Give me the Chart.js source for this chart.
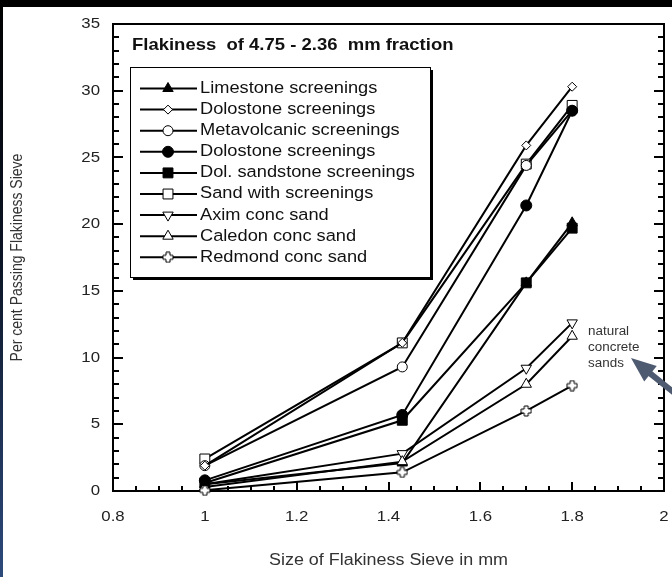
<!DOCTYPE html>
<html>
<head>
<meta charset="utf-8">
<title>Flakiness of 4.75 - 2.36 mm fraction</title>
<script src="https://cdn.jsdelivr.net/npm/chart.js@4.4.1/dist/chart.umd.min.js"></script>
<style>
  html, body { margin: 0; padding: 0; background: #fff; }
  #wrap { position: relative; width: 672px; height: 577px; overflow: hidden; }
  #topStrip { position: absolute; left: 0; top: 0; width: 672px; height: 7px; background: #000; }
  #leftStrip { position: absolute; left: 0; top: 0; width: 3px; height: 577px;
               background: linear-gradient(#000 0%, #0c1526 45%, #2d4a7c 100%); }
</style>
</head>
<body>
<div id="wrap">
  <canvas id="flakinessChart" width="672" height="577"></canvas>
  <div id="topStrip"></div>
  <div id="leftStrip"></div>
</div>
<script>
// Size of flakiness sieve (x), shared by every material
const sieveSizes = [1, 1.43, 1.7, 1.8];

// Per cent passing flakiness sieve, one array per material
const limestoneScreenings = [0.5, 2.1, 15.6, 20.1];
const dolostoneScreeningsA = [1.9, 11.1, 25.9, 30.3];
const metavolcanicScreenings = [1.9, 9.3, 24.4, 28.5];
const dolostoneScreeningsB = [0.8, 5.7, 21.4, 28.5];
const dolSandstoneScreenings = [0.6, 5.3, 15.6, 19.7];
const sandWithScreenings = [2.4, 11.1, 24.5, 28.9];
const aximConcSand = [0.5, 2.8, 9.2, 12.6];
const caledonConcSand = [0.3, 2.2, 8.0, 11.6];
const redmondConcSand = [0.05, 1.4, 6.0, 7.9];

// Axis tick labels
const xTickValues = [0.8, 1, 1.2, 1.4, 1.6, 1.8, 2];
const yTickValues = [0, 5, 10, 15, 20, 25, 30, 35];

// Texts
const chartTitle = 'Flakiness  of 4.75 - 2.36  mm fraction';
const xAxisTitle = 'Size of Flakiness Sieve in mm';
const yAxisTitle = 'Per cent Passing Flakiness Sieve';
const noteLines = ['natural', 'concrete', 'sands'];

const FONT = '"Liberation Sans", Arial, sans-serif';
const STRETCH = 1.12; // the source picture is a bit wider than it is tall

// Outlined plus marker (Chart.js only has a plain "cross")
function makePlusMarker() {
    const c = document.createElement('canvas');
    c.width = 12;
    c.height = 12;
    const g = c.getContext('2d');
    const a = 2, m = 6;
    g.beginPath();
    g.moveTo(m - a, 1); g.lineTo(m + a, 1); g.lineTo(m + a, m - a);
    g.lineTo(11, m - a); g.lineTo(11, m + a); g.lineTo(m + a, m + a);
    g.lineTo(m + a, 11); g.lineTo(m - a, 11); g.lineTo(m - a, m + a);
    g.lineTo(1, m + a); g.lineTo(1, m - a); g.lineTo(m - a, m - a);
    g.closePath();
    g.fillStyle = '#fff';
    g.fill();
    g.lineWidth = 1;
    g.strokeStyle = '#000';
    g.stroke();
    return c;
}

function series(label, values, style) {
    return Object.assign({
        label: label,
        data: sieveSizes.map((x, i) => ({ x: x, y: values[i] })),
        borderColor: '#000',
        borderWidth: 2,
        pointBorderColor: '#000',
        pointBorderWidth: 1,
        pointHoverRadius: 0,
        tension: 0,
        clip: false
    }, style);
}

const datasets = [
    series('Limestone screenings', limestoneScreenings,
        { pointStyle: 'triangle', pointRadius: 6, pointBackgroundColor: '#000', order: 9 }),
    series('Dolostone screenings', dolostoneScreeningsA,
        { pointStyle: 'rectRot', pointRadius: 4.5, pointBackgroundColor: '#fff', order: 7 }),
    series('Metavolcanic screenings', metavolcanicScreenings,
        { pointStyle: 'circle', pointRadius: 5, pointBackgroundColor: '#fff', order: 8 }),
    series('Dolostone screenings', dolostoneScreeningsB,
        { pointStyle: 'circle', pointRadius: 5.5, pointBackgroundColor: '#000', order: 2 }),
    series('Dol. sandstone screenings', dolSandstoneScreenings,
        { pointStyle: 'rect', pointRadius: 7, pointBackgroundColor: '#000', order: 6 }),
    series('Sand with screenings', sandWithScreenings,
        { pointStyle: 'rect', pointRadius: 7, pointBackgroundColor: '#fff', order: 10 }),
    series('Axim conc sand', aximConcSand,
        { pointStyle: 'triangle', pointRotation: 180, pointRadius: 6, pointBackgroundColor: '#fff', order: 5 }),
    series('Caledon conc sand', caledonConcSand,
        { pointStyle: 'triangle', pointRadius: 6, pointBackgroundColor: '#fff', order: 4 }),
    series('Redmond conc sand', redmondConcSand,
        { pointStyle: makePlusMarker(), pointRadius: 6, pointBackgroundColor: '#fff', order: 3 })
];

// Text drawn with a slight horizontal stretch
function stretchedText(ctx, text, x, y, align, font, color, rotate) {
    ctx.save();
    ctx.translate(x, y);
    if (rotate) {
        ctx.rotate(-Math.PI / 2);
        ctx.scale(1, STRETCH);
    } else {
        ctx.scale(STRETCH, 1);
    }
    ctx.font = font;
    ctx.fillStyle = color;
    ctx.textAlign = align;
    ctx.textBaseline = 'middle';
    ctx.fillText(text, 0, 0);
    ctx.restore();
}

// Plot frame with inward ticks on left, right and bottom
const frameAndTicks = {
    id: 'frameAndTicks',
    beforeDatasetsDraw(chart) {
        const { ctx, chartArea: a, scales: { x, y } } = chart;
        ctx.save();
        ctx.strokeStyle = '#000';
        ctx.lineWidth = 2;
        ctx.strokeRect(a.left, a.top, a.right - a.left, a.bottom - a.top);
        ctx.beginPath();
        for (let i = 0; i <= 24; i++) {
            const px = Math.round(x.getPixelForValue(0.8 + i * 0.05));
            const len = i % 4 === 0 ? 9 : 5;
            ctx.moveTo(px, a.bottom);
            ctx.lineTo(px, a.bottom - len);
        }
        for (let v = 0; v <= 35; v++) {
            const py = Math.round(y.getPixelForValue(v));
            const len = v % 5 === 0 ? 10 : 6;
            ctx.moveTo(a.left, py);
            ctx.lineTo(a.left + len, py);
            ctx.moveTo(a.right, py);
            ctx.lineTo(a.right - len, py);
        }
        ctx.stroke();
        ctx.restore();
    }
};

// Tick labels, titles, legend box and the note with its arrow
const decorations = {
    id: 'decorations',
    afterDatasetsDraw(chart) {
        const { ctx, chartArea: a, scales: { x, y } } = chart;
        const tickFont = '15px ' + FONT;

        yTickValues.forEach(v => {
            stretchedText(ctx, String(v), a.left - 13, y.getPixelForValue(v), 'right', tickFont, '#222');
        });
        xTickValues.forEach(v => {
            stretchedText(ctx, String(v), x.getPixelForValue(v), a.bottom + 26, 'center', tickFont, '#222');
        });

        stretchedText(ctx, xAxisTitle, (a.left + a.right) / 2, 561, 'center', '16px ' + FONT, '#333');
        stretchedText(ctx, yAxisTitle, 18, (a.top + a.bottom) / 2, 'center', '14px ' + FONT, '#333', true);

        stretchedText(ctx, chartTitle, a.left + 19, 45, 'left', 'bold 16.5px ' + FONT, '#111');

        // legend box with drop shadow
        const box = { left: 130, top: 67, width: 300, height: 210 };
        ctx.save();
        ctx.fillStyle = '#000';
        ctx.fillRect(box.left + 3, box.top + 3, box.width, box.height);
        ctx.fillStyle = '#fff';
        ctx.fillRect(box.left, box.top, box.width, box.height);
        ctx.strokeStyle = '#000';
        ctx.lineWidth = 1;
        ctx.strokeRect(box.left + 0.5, box.top + 0.5, box.width, box.height);
        ctx.restore();

        chart.data.datasets.forEach((ds, i) => {
            const rowY = 88.5 + i * 21.1;
            ctx.save();
            ctx.strokeStyle = '#000';
            ctx.lineWidth = 2;
            ctx.beginPath();
            ctx.moveTo(140, rowY);
            ctx.lineTo(197, rowY);
            ctx.stroke();
            ctx.fillStyle = ds.pointBackgroundColor;
            ctx.lineWidth = 1;
            Chart.helpers.drawPoint(ctx, {
                pointStyle: ds.pointStyle,
                radius: ds.pointRadius,
                rotation: ds.pointRotation || 0,
                borderWidth: 1
            }, 168, rowY);
            ctx.restore();
            stretchedText(ctx, ds.label, 200, rowY, 'left', '16.3px ' + FONT, '#111');
        });

        // note on the natural sands
        noteLines.forEach((t, i) => {
            stretchedText(ctx, t, 588, 332 + i * 16, 'left', '12px ' + FONT, '#333');
        });
        const tip = { x: 631, y: 358 };
        const d = { x: 0.779, y: 0.627 };
        const n = { x: -d.y, y: d.x };
        ctx.save();
        ctx.strokeStyle = '#4d5a70';
        ctx.fillStyle = '#4d5a70';
        ctx.lineWidth = 6;
        ctx.beginPath();
        ctx.moveTo(tip.x + d.x * 20, tip.y + d.y * 20);
        ctx.lineTo(tip.x + d.x * 70, tip.y + d.y * 70);
        ctx.stroke();
        const bx = tip.x + d.x * 25, by = tip.y + d.y * 25;
        ctx.beginPath();
        ctx.moveTo(tip.x, tip.y);
        ctx.lineTo(bx + n.x * 10, by + n.y * 10);
        ctx.lineTo(bx - n.x * 10, by - n.y * 10);
        ctx.closePath();
        ctx.fill();
        ctx.restore();
    }
};

new Chart(document.getElementById('flakinessChart'), {
    type: 'line',
    data: { datasets: datasets },
    options: {
        responsive: false,
        animation: false,
        events: [],
        layout: { padding: { left: 0, top: 24, right: 3, bottom: 0 } },
        plugins: {
            legend: { display: false },
            tooltip: { enabled: false }
        },
        scales: {
            x: {
                type: 'linear',
                min: 0.8,
                max: 2,
                grid: { display: false, drawTicks: false },
                border: { display: false },
                ticks: { display: false },
                afterFit: s => { s.height = 86; }
            },
            y: {
                min: 0,
                max: 35,
                grid: { display: false, drawTicks: false },
                border: { display: false },
                ticks: { display: false },
                afterFit: s => { s.width = 113; }
            }
        }
    },
    plugins: [frameAndTicks, decorations]
});
</script>
</body>
</html>
